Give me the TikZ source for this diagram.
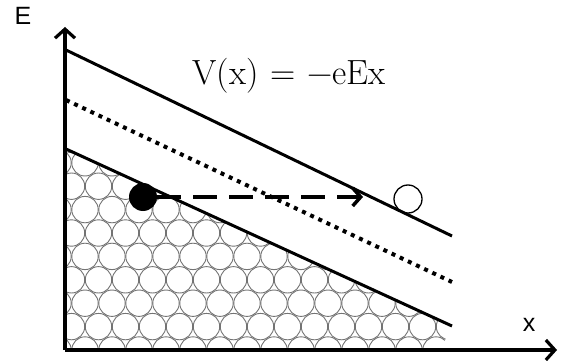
\documentclass[tikz,border=0pt]{standalone}
\usepackage{fontspec}
\newfontfamily\labelfont{Liberation Sans}
\usetikzlibrary{arrows.meta}
\begin{document}
\begin{tikzpicture}[x=1pt,y=-1pt,
  axis/.style={line width=3.2pt,-{Straight Barb[length=9pt,width=20pt,line width=3.2pt]}},
  band/.style={line width=3pt},
  dotline/.style={line width=4pt,dash pattern=on 4pt off 5pt},
  grain/.style={draw=black!55,line width=0.9pt},
  move/.style={line width=4pt,dash pattern=on 24pt off 12pt,-{Straight Barb[length=8pt,width=18pt,line width=3.5pt]}},
  lab/.style={font=\labelfont\fontsize{25}{30}\selectfont,inner sep=0pt}]
\useasboundingbox (0,0) rectangle (565,361);
% packed grains
\begin{scope}
\clip (66,149) -- (452,326) -- (440,350) -- (66,350) -- cycle;
\foreach \i in {0,...,10}{
  \foreach \j in {0,...,17}{
    \pgfmathsetmacro\cx{58+\j*27+mod(\i,2)*13.5}
    \pgfmathsetmacro\cy{350-\i*23.4}
    \draw[grain] (\cx,\cy) circle (13.2pt);
  }
}
\end{scope}
% axes
\coordinate (O) at (65,350);
\coordinate (Etip) at (65,27);
\coordinate (Xtip) at (557,350);
\draw[axis] (O) -- (Etip);
\draw[axis] (O) -- (Xtip);
\node[lab] (E) at (23,16) {E};
\node[lab] (X) at (529,325) {x};
% bands
\coordinate (t1) at (66,50);  \coordinate (t2) at (452,236);
\coordinate (d1) at (66,100); \coordinate (d2) at (452,282);
\coordinate (b1) at (66,149); \coordinate (b2) at (452,326);
\draw[band] (t1) -- (t2);
\draw[dotline] (d1) -- (d2);
\draw[band] (b1) -- (b2);
% particles
\node[circle,fill=black,minimum size=28pt,inner sep=0pt] (p) at (143,197) {};
\node[circle,draw=black,line width=1.3pt,minimum size=28pt,inner sep=0pt] (q) at (408,199) {};
\coordinate (arrowend) at (363,197);
\draw[move] (p.east) -- (arrowend);
\node[font=\fontsize{35}{40}\selectfont,inner sep=0pt] (eq) at (289,76) {V(x)\,\,=\,\,\char"2212 eEx};
\end{tikzpicture}
\end{document}
